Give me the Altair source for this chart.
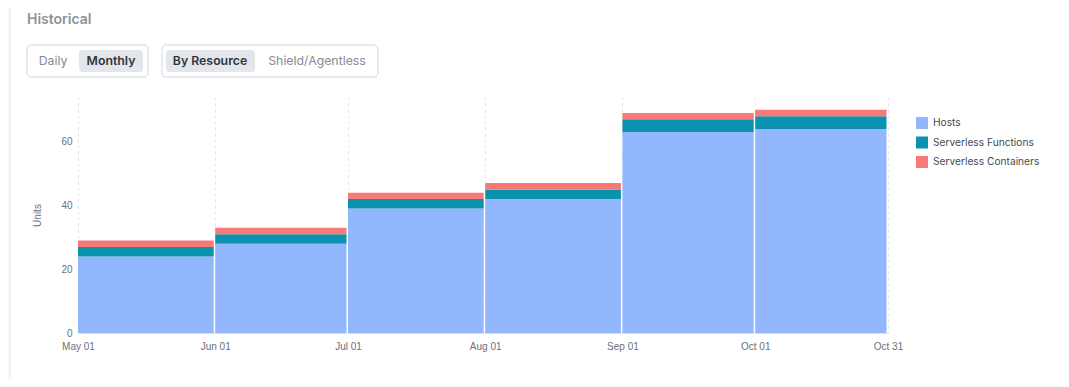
import altair as alt
import pandas as pd

# ---- data ----
month_starts = ["2024-05-01", "2024-06-01", "2024-07-01", "2024-08-01", "2024-09-01", "2024-10-01"]
month_ends = ["2024-06-01", "2024-07-01", "2024-08-01", "2024-09-01", "2024-10-01", "2024-10-31"]
hosts = [24, 28, 39, 42, 63, 64]
functions = [3, 3, 3, 3, 4, 4]
containers = [2, 2, 2, 2, 2, 2]
series_names = ["Hosts", "Serverless Functions", "Serverless Containers"]
series_colors = ["#93b7fd", "#0993ae", "#f87a78"]
tick_dates = [(2024, 5, 1), (2024, 6, 1), (2024, 7, 1), (2024, 8, 1), (2024, 9, 1), (2024, 10, 1), (2024, 10, 31)]
y_ticks = [0, 20, 40, 60]

rows = []
for i, (s, e) in enumerate(zip(month_starts, month_ends)):
    for k, (name, vals) in enumerate(zip(series_names, [hosts, functions, containers])):
        rows.append({"start": s, "end": e, "series": name, "order": k, "value": vals[i]})
df = pd.DataFrame(rows)

dt = [alt.DateTime(year=y, month=m, date=d, utc=True) for (y, m, d) in tick_dates]

UI_FONT = "Inter"
AX_FONT = "Liberation Sans"

bars = alt.Chart(df).transform_stack(
    stack="value", groupby=["start"], as_=["y0", "y1"],
    sort=[alt.SortField("order", order="ascending")]
).mark_rect(x2Offset=-1.5).encode(
    x=alt.X("start:T",
            scale=alt.Scale(type="utc", domain=[dt[0], dt[-1]], nice=False),
            axis=alt.Axis(values=dt, format="%b %d", title=None, grid=True,
                          gridDash=[3, 3], gridColor="#e3e5e9", ticks=False,
                          labelFlush=False, labelOverlap=False,
                          domainColor="#dcdfe3", labelPadding=8, labelFont=AX_FONT,
                          labelFontSize=10, labelColor="#6b7079")),
    x2="end:T",
    y=alt.Y("y0:Q",
            scale=alt.Scale(domain=[0, 74], nice=False),
            axis=alt.Axis(values=y_ticks, title="Units", grid=False, domain=False,
                          ticks=False, labelPadding=6, labelFont=AX_FONT,
                          labelFontSize=10, labelColor="#6b7079",
                          titleFont=AX_FONT, titleFontSize=10, titleColor="#6b7079",
                          titleFontWeight="normal", titlePadding=18)),
    y2="y1:Q",
    color=alt.Color("series:N",
                    scale=alt.Scale(domain=series_names, range=series_colors),
                    legend=alt.Legend(title=None, orient="none", legendX=838, legendY=20,
                                      symbolType="square", symbolSize=144,
                                      symbolStrokeWidth=0, labelFont=UI_FONT,
                                      labelFontSize=10.2, labelColor="#454a52",
                                      rowPadding=7.5, labelOffset=5)),
)

one = alt.Data(values=[{"k": 0}])

# light page strip and card edge on the left
strip = alt.Chart(one).mark_rect(fill="#f6f7f9").encode(
    x=alt.value(-70), x2=alt.value(-68), y=alt.value(-89), y2=alt.value(282))
edge = alt.Chart(one).mark_rect(fill="#eceef1").encode(
    x=alt.value(-68), x2=alt.value(-67), y=alt.value(-89), y2=alt.value(282))

title = alt.Chart(one).mark_text(align="left", baseline="middle", font=UI_FONT,
                                 fontSize=14, fontWeight=600, color="#8d929a").encode(
    x=alt.value(-51), y=alt.value(-77), text=alt.value("Historical"))

box1 = alt.Chart(one).mark_rect(fill="white", stroke="#d3d6db", cornerRadius=4).encode(
    x=alt.value(-51), x2=alt.value(70), y=alt.value(-52), y2=alt.value(-20))
box2 = alt.Chart(one).mark_rect(fill="white", stroke="#d3d6db", cornerRadius=4).encode(
    x=alt.value(84), x2=alt.value(300), y=alt.value(-52), y2=alt.value(-20))
hl1 = alt.Chart(one).mark_rect(fill="#e3e6ea", cornerRadius=3).encode(
    x=alt.value(1), x2=alt.value(65), y=alt.value(-47), y2=alt.value(-25))
hl2 = alt.Chart(one).mark_rect(fill="#e3e6ea", cornerRadius=3).encode(
    x=alt.value(88), x2=alt.value(177), y=alt.value(-47), y2=alt.value(-25))

def btn_text(label, cx, bold):
    return alt.Chart(one).mark_text(
        align="center", baseline="middle", font=UI_FONT, fontSize=12.3,
        fontWeight=600 if bold else 400,
        color="#30353c" if bold else "#868b94").encode(
        x=alt.value(cx), y=alt.value(-36), text=alt.value(label))

t_daily = btn_text("Daily", -25, False)
t_monthly = btn_text("Monthly", 33, True)
t_byres = btn_text("By Resource", 132, True)
t_shield = btn_text("Shield/Agentless", 239, False)

chart = alt.layer(
    strip, edge, title, box1, box2, hl1, hl2, t_daily, t_monthly, t_byres, t_shield, bars
).properties(
    width=810, height=236,
    autosize=alt.AutoSizeParams(type="none"),
    padding={"left": 70, "top": 89, "right": 173, "bottom": 46},
    background="white",
).configure_view(stroke=None)

chart.save("out.html", embed_options={"renderer": "svg", "actions": False})
